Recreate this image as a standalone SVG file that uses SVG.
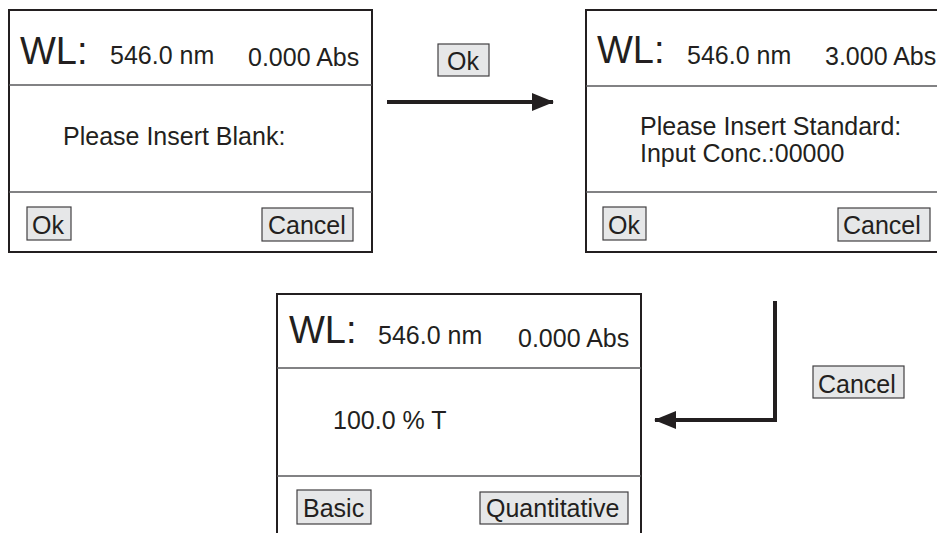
<svg xmlns="http://www.w3.org/2000/svg" width="937" height="533" viewBox="0 0 937 533">
  <defs>
    <style>
      .panel { fill: #ffffff; stroke: #231f20; stroke-width: 2; }
      .rule { stroke: #58595b; stroke-width: 1.5; }
      .btn { fill: #e6e7e8; stroke: #414042; stroke-width: 1.2; }
      text { font-family: "Liberation Sans", Arial, sans-serif; fill: #231f20; }
      .wl { font-size: 38px; }
      .t { font-size: 25px; }
      .wire { fill: none; stroke: #231f20; stroke-width: 4; }
    </style>
    <marker id="head" viewBox="0 0 22 18" refX="21" refY="9" markerWidth="22" markerHeight="18" markerUnits="userSpaceOnUse" orient="auto">
      <path d="M0,0 L22,9 L0,18 Z" fill="#231f20"/>
    </marker>
  </defs>

  <!-- Screen: blank measurement -->
  <g id="screen-blank">
    <rect class="panel" x="9" y="10" width="363" height="242"/>
    <line class="rule" x1="9" y1="85" x2="372" y2="85"/>
    <line class="rule" x1="9" y1="192" x2="372" y2="192"/>
    <text class="wl" x="20" y="64">WL:</text>
    <text class="t" x="110" y="64">546.0 nm</text>
    <text class="t" x="248" y="66">0.000 Abs</text>
    <text class="t" x="63" y="145">Please Insert Blank:</text>
    <rect class="btn" x="27" y="207" width="44" height="33"/>
    <text class="t" x="32" y="234">Ok</text>
    <rect class="btn" x="262" y="208" width="91" height="33"/>
    <text class="t" x="268" y="234">Cancel</text>
  </g>

  <!-- Screen: standard entry -->
  <g id="screen-standard">
    <rect class="panel" x="586" y="10" width="360" height="242"/>
    <line class="rule" x1="586" y1="86" x2="946" y2="86"/>
    <line class="rule" x1="586" y1="192" x2="946" y2="192"/>
    <text class="wl" x="597" y="63">WL:</text>
    <text class="t" x="687" y="64">546.0 nm</text>
    <text class="t" x="825" y="65">3.000 Abs</text>
    <text class="t" x="640" y="135">Please Insert Standard:</text>
    <text class="t" x="640" y="162">Input Conc.:00000</text>
    <rect class="btn" x="603" y="207" width="43" height="33"/>
    <text class="t" x="608" y="234">Ok</text>
    <rect class="btn" x="838" y="208" width="92" height="33"/>
    <text class="t" x="843" y="234">Cancel</text>
  </g>

  <!-- Screen: transmittance -->
  <g id="screen-transmittance">
    <rect class="panel" x="277" y="294" width="364" height="250"/>
    <line class="rule" x1="277" y1="368" x2="641" y2="368"/>
    <line class="rule" x1="277" y1="476" x2="641" y2="476"/>
    <text class="wl" x="289" y="343">WL:</text>
    <text class="t" x="378" y="344">546.0 nm</text>
    <text class="t" x="518" y="347">0.000 Abs</text>
    <text class="t" x="333" y="429">100.0 % T</text>
    <rect class="btn" x="297" y="490" width="74" height="34"/>
    <text class="t" x="303" y="517">Basic</text>
    <rect class="btn" x="480" y="492" width="148" height="32"/>
    <text class="t" x="486" y="517">Quantitative</text>
  </g>

  <!-- Connectors -->
  <g id="connectors">
    <path class="wire" d="M387,102 L553,102" marker-end="url(#head)"/>
    <path class="wire" d="M775,301 L775,420 L655,420" marker-end="url(#head)"/>
    <g id="label-ok">
      <rect class="btn" x="438" y="44" width="51" height="32"/>
      <text class="t" x="447" y="70">Ok</text>
    </g>
    <g id="label-cancel">
      <rect class="btn" x="813" y="366" width="91" height="32"/>
      <text class="t" x="818" y="393">Cancel</text>
    </g>
  </g>
</svg>
